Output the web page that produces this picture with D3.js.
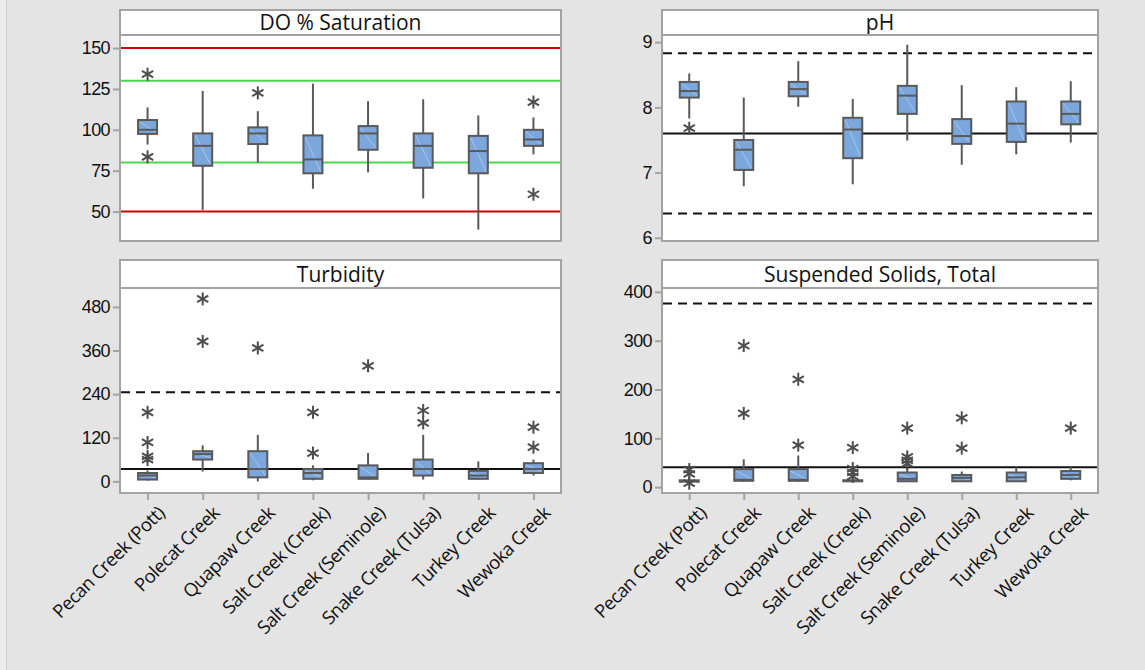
<!DOCTYPE html>
<html>
<head>
<meta charset="utf-8">
<script src="https://cdn.jsdelivr.net/npm/d3@7"></script>
<style>
  body { margin: 0; background: #ececec; }
  svg { display: block; font-family: "Open Sans", "DejaVu Sans", sans-serif; }
</style>
</head>
<body>
<svg id="chart" width="1145" height="670"></svg>
<script>
const creeks = [
  "Pecan Creek (Pott)", "Polecat Creek", "Quapaw Creek", "Salt Creek (Creek)",
  "Salt Creek (Seminole)", "Snake Creek (Tulsa)", "Turkey Creek", "Wewoka Creek"
];

// DO % Saturation
const doLow = [91, 51, 80, 64, 74, 58, 39, 85];
const doQ1 = [97.5, 78, 91.3, 73.4, 87.8, 76.8, 73.4, 90.2];
const doMed = [100, 90.2, 97.8, 81.9, 97.8, 90.2, 87, 94.1];
const doQ3 = [106, 97.8, 101.5, 96.6, 102.3, 97.8, 96.3, 100];
const doHigh = [113.7, 123.8, 111.4, 128.3, 117.5, 118.7, 108.8, 107.6];
const doOut = [[134, 83.5], [], [122.6], [], [], [], [], [117, 60.6]];
const doTicks = [50, 75, 100, 125, 150];

// pH
const phLow = [7.83, 6.79, 8.01, 6.82, 7.49, 7.12, 7.28, 7.46];
const phQ1 = [8.15, 7.04, 8.17, 7.22, 7.9, 7.44, 7.47, 7.74];
const phMed = [8.25, 7.35, 8.28, 7.66, 8.18, 7.56, 7.75, 7.9];
const phQ3 = [8.39, 7.5, 8.39, 7.84, 8.33, 7.82, 8.09, 8.09];
const phHigh = [8.52, 8.15, 8.71, 8.13, 8.96, 8.34, 8.31, 8.4];
const phOut = [[7.68], [], [], [], [], [], [], []];
const phTicks = [6, 7, 8, 9];

// Turbidity
const turbLow = [2, 27, 0, 3, 5, 5, 5, 16];
const turbQ1 = [5, 60, 11, 7, 7, 16, 7, 23];
const turbMed = [16, 75, 34, 23, 11, 34, 16, 34];
const turbQ3 = [23, 83, 83, 34, 44, 60, 29, 50];
const turbHigh = [30, 99, 128, 44, 78, 128, 55, 60];
const turbOut = [[190, 107, 69, 60], [502, 385], [367], [190, 78], [318], [195, 161], [], [149, 94]];
const turbTicks = [0, 120, 240, 360, 480];

// Suspended Solids, Total
const tssLow = [10, 11, 11, 11, 11, 11, 11, 14];
const tssQ1 = [11, 13, 13, 12, 12, 12, 12, 17];
const tssMed = [12, 15, 15, 13, 17, 19, 20, 25];
const tssQ3 = [14, 37, 37, 14, 30, 25, 30, 33];
const tssHigh = [17, 57, 65, 16, 40, 32, 41, 41];
const tssOut = [[36, 27, 8], [290, 151], [221, 86], [81, 38, 30, 22], [121, 62, 55, 48], [142, 80], [], [121]];
const tssTicks = [0, 100, 200, 300, 400];

const svg = d3.select("#chart");

// outer grey area
svg.append("rect")
  .attr("x", 6.5).attr("y", -2).attr("width", 1145).attr("height", 680)
  .attr("fill", "#e4e4e4").attr("stroke", "#cfcfcf");

const boxFill = "#7ba7dc",
  boxStroke = "#595959";

function panel(cfg) {
  const g = svg.append("g");
  const x = d3.scalePoint().domain(creeks).range([cfg.left, cfg.right]).padding(0.5);
  const y = d3.scaleLinear().domain(cfg.domain).range([cfg.bottom, cfg.plotTop]);

  // title strip
  g.append("rect")
    .attr("x", cfg.left).attr("y", cfg.top)
    .attr("width", cfg.right - cfg.left).attr("height", cfg.plotTop - cfg.top)
    .attr("fill", "white").attr("stroke", "#a3a3a3").attr("stroke-width", 2);
  g.append("text")
    .attr("x", (cfg.left + cfg.right) / 2)
    .attr("y", (cfg.top + cfg.plotTop) / 2)
    .attr("dy", "0.36em")
    .attr("text-anchor", "middle")
    .style("font-size", "21px")
    .style("fill", "#111")
    .text(cfg.title);

  // plot area
  g.append("rect")
    .attr("x", cfg.left).attr("y", cfg.plotTop)
    .attr("width", cfg.right - cfg.left).attr("height", cfg.bottom - cfg.plotTop)
    .attr("fill", "white").attr("stroke", "#a3a3a3").attr("stroke-width", 2);

  // y axis
  const yAxis = g.append("g")
    .attr("transform", `translate(${cfg.left - 1},0)`)
    .call(d3.axisLeft(y).tickValues(cfg.ticks).tickFormat(d3.format("d")).tickSize(6).tickPadding(3));
  yAxis.select(".domain").remove();
  yAxis.selectAll("line").attr("stroke", "#a3a3a3").attr("stroke-width", 2);
  yAxis.selectAll("text")
    .style("font-size", "18px")
    .style("letter-spacing", "-0.6px")
    .style("fill", "#111")
    .attr("font-family", null);

  if (cfg.labels) {
    // x axis ticks only under the bottom row
    const xAxis = g.append("g")
      .attr("transform", `translate(0,${cfg.bottom + 1})`)
      .call(d3.axisBottom(x).tickSize(6).tickFormat(""));
    xAxis.select(".domain").remove();
    xAxis.selectAll("line").attr("stroke", "#a3a3a3").attr("stroke-width", 2);

    g.selectAll(".catLabel")
      .data(creeks)
      .join("text")
      .attr("class", "catLabel")
      .attr("transform", (d) => `translate(${x(d) + 9},${cfg.bottom + 12}) rotate(-45)`)
      .attr("text-anchor", "end")
      .attr("dy", "0.7em")
      .style("font-size", "18.5px")
      .style("letter-spacing", "-0.5px")
      .style("fill", "#111")
      .text((d) => d);
  }

  // reference lines
  g.selectAll(".ref")
    .data(cfg.refs)
    .join("line")
    .attr("x1", cfg.left + 1).attr("x2", cfg.right - 1)
    .attr("y1", (d) => y(d.v)).attr("y2", (d) => y(d.v))
    .attr("stroke", (d) => d.c)
    .attr("stroke-width", 2)
    .attr("stroke-dasharray", (d) => (d.dash ? "9,6" : null));

  // boxes
  const bw = 19;
  const s = cfg.stats;
  creeks.forEach((c, i) => {
    const cx = x(c);
    const bg = g.append("g");
    bg.append("line")
      .attr("x1", cx).attr("x2", cx)
      .attr("y1", y(s.high[i])).attr("y2", y(s.low[i]))
      .attr("stroke", boxStroke).attr("stroke-width", 2);
    const yTop = y(s.q3[i]),
      yBot = y(s.q1[i]);
    bg.append("rect")
      .attr("x", cx - bw / 2).attr("y", yTop)
      .attr("width", bw).attr("height", Math.max(yBot - yTop, 1))
      .attr("fill", boxFill).attr("stroke", boxStroke).attr("stroke-width", 2);
    // faint hatch line
    bg.append("line")
      .attr("x1", cx - bw / 2 + 2).attr("y1", yTop + 2)
      .attr("x2", cx + bw / 2 - 2).attr("y2", Math.max(yBot - 2, yTop + 2))
      .attr("stroke", "#b4cdee").attr("stroke-width", 0.8);
    bg.append("line")
      .attr("x1", cx - bw / 2).attr("x2", cx + bw / 2)
      .attr("y1", y(s.med[i])).attr("y2", y(s.med[i]))
      .attr("stroke", boxStroke).attr("stroke-width", 2);

    // outlier asterisks
    s.out[i].forEach((v) => {
      const star = bg.append("g").attr("transform", `translate(${cx},${y(v)})`);
      [90, 30, 150].forEach((a) => {
        const r = 6.5,
          dx = r * Math.cos((a * Math.PI) / 180),
          dy = r * Math.sin((a * Math.PI) / 180);
        star.append("line")
          .attr("x1", -dx).attr("y1", -dy).attr("x2", dx).attr("y2", dy)
          .attr("stroke", "#4d4d4d").attr("stroke-width", 2);
      });
    });
  });
}

const leftL = 120, leftR = 561, rightL = 662, rightR = 1098;

panel({
  title: "DO % Saturation", left: leftL, right: leftR, top: 10, plotTop: 35, bottom: 241,
  domain: [32, 158], ticks: doTicks, labels: false,
  refs: [
    { v: 150, c: "#d40000" }, { v: 50, c: "#d40000" },
    { v: 130, c: "#4cd64c" }, { v: 80, c: "#4cd64c" }
  ],
  stats: { low: doLow, q1: doQ1, med: doMed, q3: doQ3, high: doHigh, out: doOut }
});

panel({
  title: "pH", left: rightL, right: rightR, top: 10, plotTop: 35, bottom: 241,
  domain: [5.95, 9.11], ticks: phTicks, labels: false,
  refs: [
    { v: 8.83, c: "#111", dash: true }, { v: 6.37, c: "#111", dash: true },
    { v: 7.6, c: "#111" }
  ],
  stats: { low: phLow, q1: phQ1, med: phMed, q3: phQ3, high: phHigh, out: phOut }
});

panel({
  title: "Turbidity", left: leftL, right: leftR, top: 260, plotTop: 288, bottom: 493,
  domain: [-32, 532], ticks: turbTicks, labels: true,
  refs: [{ v: 245, c: "#111", dash: true }, { v: 34, c: "#111" }],
  stats: { low: turbLow, q1: turbQ1, med: turbMed, q3: turbQ3, high: turbHigh, out: turbOut }
});

panel({
  title: "Suspended Solids, Total", left: rightL, right: rightR, top: 260, plotTop: 288, bottom: 493,
  domain: [-12, 408], ticks: tssTicks, labels: true,
  refs: [{ v: 376, c: "#111", dash: true }, { v: 41, c: "#111" }],
  stats: { low: tssLow, q1: tssQ1, med: tssMed, q3: tssQ3, high: tssHigh, out: tssOut }
});
</script>
</body>
</html>
